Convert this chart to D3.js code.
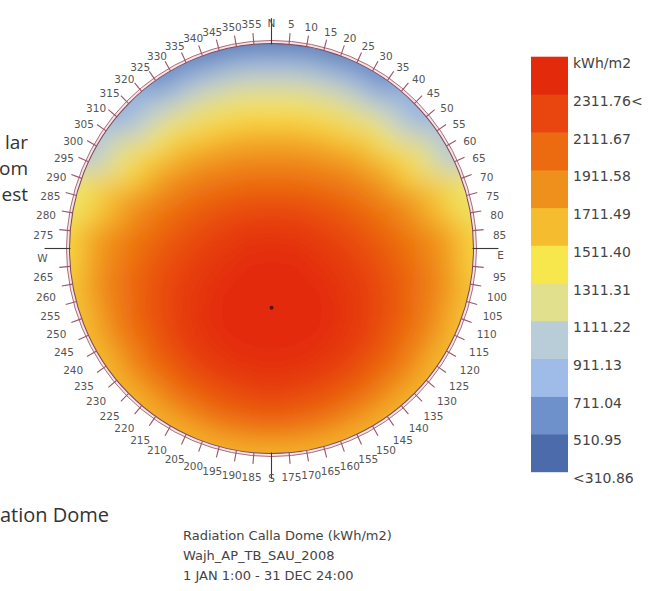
<!DOCTYPE html>
<html>
<head>
<meta charset="utf-8">
<script src="https://cdn.jsdelivr.net/npm/d3@7/dist/d3.min.js"></script>
<style>
  body { margin: 0; background: #fff; }
  svg { display: block; }
</style>
</head>
<body>
<svg id="chart" width="671" height="591"></svg>
<script>
// ---- sky dome samples: azimuth (deg, clockwise from N) x zenith distance (deg) ----
const azimuths = [0, 15, 30, 45, 60, 75, 90, 105, 120, 135, 150, 165,
                  180, 195, 210, 225, 240, 255, 270, 285, 300, 315, 330, 345];
const zenithRings = [10, 20, 30, 40, 50, 60, 70, 80, 90];
const zenithValue = 2380; // kWh/m2 straight overhead

// cumulative radiation, kWh/m2, one list per zenith ring (ordered like azimuths)
const ring10 = [2280,2290,2300,2320,2330,2350,2360,2390,2410,2430,2450,2460,2460,2460,2450,2430,2410,2390,2360,2350,2330,2320,2300,2290];
const ring20 = [2150,2170,2190,2220,2250,2280,2310,2360,2400,2440,2470,2490,2500,2490,2470,2440,2400,2360,2310,2280,2250,2220,2190,2170];
const ring30 = [1990,2010,2040,2090,2150,2200,2250,2320,2370,2430,2470,2500,2510,2500,2470,2430,2370,2320,2250,2200,2150,2090,2040,2010];
const ring40 = [1830,1850,1890,1960,2040,2110,2180,2260,2320,2390,2430,2460,2470,2460,2430,2390,2320,2260,2180,2110,2040,1960,1890,1850];
const ring50 = [1650,1670,1710,1800,1900,2000,2090,2180,2250,2320,2360,2390,2400,2390,2360,2320,2250,2180,2090,2000,1900,1800,1710,1670];
const ring60 = [1440,1460,1500,1600,1720,1870,1990,2080,2150,2210,2250,2280,2290,2280,2250,2210,2150,2080,1990,1870,1720,1600,1500,1460];
const ring70 = [1180,1200,1240,1340,1490,1710,1870,1960,2010,2060,2100,2130,2150,2130,2100,2060,2010,1960,1870,1710,1490,1340,1240,1200];
const ring80 = [860,880,920,1030,1230,1530,1730,1800,1840,1880,1910,1940,1950,1940,1910,1880,1840,1800,1730,1530,1230,1030,920,880];
const ring90 = [500,520,580,760,960,1320,1500,1580,1620,1650,1660,1660,1650,1660,1660,1650,1620,1580,1500,1320,960,760,580,520];
const ringValues = [ring10, ring20, ring30, ring40, ring50, ring60, ring70, ring80, ring90];

// position of the radiation peak marker
const peakAzimuth = 180, peakZenith = 26;

// ---- legend ----
const legendBreaks = [310.86, 510.95, 711.04, 911.13, 1111.22, 1311.31, 1511.40, 1711.49, 1911.58, 2111.67, 2311.76];
const legendColors = ["#4c6bab", "#6f91cb", "#9fbbe8", "#b9cdd8", "#e1e08c", "#f8e74c", "#f5bc30", "#f0901c", "#ec6b10", "#e8450f", "#e32b0c"];
const legendLabels = ["<310.86", "510.95", "711.04", "911.13", "1111.22", "1311.31", "1511.40", "1711.49", "1911.58", "2111.67", "2311.76<", "kWh/m2"];

// ---- compass ----
const tickAzimuths = d3.range(0, 360, 5);
const cardinals = {0: "N", 90: "E", 180: "S", 270: "W"};

// ---- captions ----
const captionLines = ["Radiation Calla Dome (kWh/m2)", "Wajh_AP_TB_SAU_2008", "1 JAN 1:00 - 31 DEC 24:00"];
const sideWords = ["lar", "om", "est"];
const lowerWord = "ation Dome";

// ===================================================================
const svg = d3.select("#chart");
const cx = 271.5, cy = 248.5, R = 202, ky = 205 / 202;
const step = legendBreaks[1] - legendBreaks[0];
const vmax = legendBreaks[legendBreaks.length - 1] + step;

const zScale = d3.scaleLinear().domain([0, 90]).range([0, R]);
const rad = d => d * Math.PI / 180;

const color = d3.scaleLinear()
  .domain(legendBreaks.map(b => b + step / 2))
  .range(legendColors)
  .interpolate(d3.interpolateRgb)
  .clamp(true);

const defs = svg.append("defs");
defs.append("clipPath").attr("id", "domeClip")
  .append("circle").attr("r", R);
const blur = defs.append("filter").attr("id", "soft")
  .attr("x", "-20%").attr("y", "-20%").attr("width", "140%").attr("height", "140%");
blur.append("feGaussianBlur").attr("stdDeviation", 13);

const dome = svg.append("g")
  .attr("transform", `translate(${cx},${cy}) scale(1,${ky})`);

// radiation patches
const patches = [];
patches.push({a0: 0, a1: 360, z0: 0, z1: 5, v: zenithValue});
zenithRings.forEach((z, i) => {
  azimuths.forEach((a, j) => {
    patches.push({
      a0: a - 7.5, a1: a + 7.5,
      z0: z - 5, z1: z === 90 ? 104 : z + 5,
      v: ringValues[i][j]
    });
  });
});

const arc = d3.arc()
  .startAngle(d => rad(d.a0)).endAngle(d => rad(d.a1))
  .innerRadius(d => zScale(d.z0)).outerRadius(d => zScale(d.z1));

dome.append("g").attr("clip-path", "url(#domeClip)")
  .append("g").attr("filter", "url(#soft)")
  .selectAll("path").data(patches).join("path")
  .attr("d", arc)
  .attr("fill", d => color(d.v))
  .attr("stroke", d => color(d.v))
  .attr("stroke-width", 1);

// peak marker
dome.append("circle")
  .attr("cx", zScale(peakZenith) * Math.sin(rad(peakAzimuth)))
  .attr("cy", -zScale(peakZenith) * Math.cos(rad(peakAzimuth)))
  .attr("r", 2).attr("fill", "#5a0c08");

// rim: double ring
dome.append("circle").attr("r", R + 1.5).attr("fill", "none")
  .attr("stroke", "#f3e3e8").attr("stroke-width", 3);
dome.append("circle").attr("r", R).attr("fill", "none")
  .attr("stroke", "#7e4652").attr("stroke-width", 1);
dome.append("circle").attr("r", R + 3).attr("fill", "none")
  .attr("stroke", "#a0606e").attr("stroke-width", 0.9);

// degree ticks
dome.selectAll("line.tick").data(tickAzimuths.filter(a => !(a in cardinals))).join("line")
  .attr("class", "tick")
  .attr("x1", a => R * Math.sin(rad(a)))
  .attr("y1", a => -R * Math.cos(rad(a)))
  .attr("x2", a => (R + 11) * Math.sin(rad(a)))
  .attr("y2", a => -(R + 11) * Math.cos(rad(a)))
  .attr("stroke", "#9c5466").attr("stroke-width", 1.1);

dome.selectAll("line.card").data(Object.keys(cardinals).map(Number)).join("line")
  .attr("class", "card")
  .attr("x1", a => (R - 1) * Math.sin(rad(a)))
  .attr("y1", a => -(R - 1) * Math.cos(rad(a)))
  .attr("x2", a => (R + 25) * Math.sin(rad(a)))
  .attr("y2", a => -(R + 25) * Math.cos(rad(a)))
  .attr("stroke", "#3a3a3a").attr("stroke-width", 1.1);

// degree labels
const LX = 229, LY = 226;
svg.append("g")
  .attr("font-family", "'DejaVu Sans', Verdana, sans-serif")
  .attr("font-size", 10.5).attr("fill", "#555")
  .selectAll("text").data(tickAzimuths).join("text")
  .attr("x", a => cx + LX * Math.sin(rad(a)))
  .attr("y", a => cy - LY * Math.cos(rad(a)) + 6 * Math.abs(Math.sin(rad(a))) + (Math.cos(rad(a)) <= 0 ? 3 : 0))
  .attr("text-anchor", "middle")
  .attr("dominant-baseline", "central")
  .text(a => cardinals[a] || String(a));

// ---- legend bar ----
const ly = d3.scaleLinear().domain([legendBreaks[0], vmax]).range([471.7, 56.7]);
const legend = svg.append("g");
legend.selectAll("rect").data(legendBreaks).join("rect")
  .attr("x", 531).attr("width", 37)
  .attr("y", b => ly(b + step))
  .attr("height", b => ly(b) - ly(b + step) + 0.5)
  .attr("fill", (b, i) => legendColors[i]);

const labelValues = legendBreaks.concat([vmax]);
legend.selectAll("text").data(legendLabels).join("text")
  .attr("x", 573)
  .attr("y", (t, i) => ly(labelValues[i]) + 6.5)
  .attr("dominant-baseline", "central")
  .attr("font-family", "'DejaVu Sans', Verdana, sans-serif")
  .attr("font-size", 14).attr("fill", "#444")
  .text(t => t);

// ---- captions ----
svg.append("g")
  .attr("font-family", "'DejaVu Sans', Verdana, sans-serif")
  .attr("font-size", 13).attr("fill", "#444")
  .selectAll("text").data(captionLines).join("text")
  .attr("x", 183)
  .attr("y", (t, i) => 540 + i * 20)
  .text(t => t);

svg.append("g")
  .attr("font-family", "'Open Sans', sans-serif")
  .attr("font-size", 19).attr("fill", "#333")
  .attr("text-anchor", "end")
  .selectAll("text").data(sideWords).join("text")
  .attr("x", 28)
  .attr("y", (t, i) => 149 + i * 26)
  .text(t => t);

svg.append("text")
  .attr("x", 0).attr("y", 522)
  .attr("font-family", "'Open Sans', sans-serif")
  .attr("font-size", 20).attr("fill", "#333")
  .text(lowerWord);
</script>
</body>
</html>
